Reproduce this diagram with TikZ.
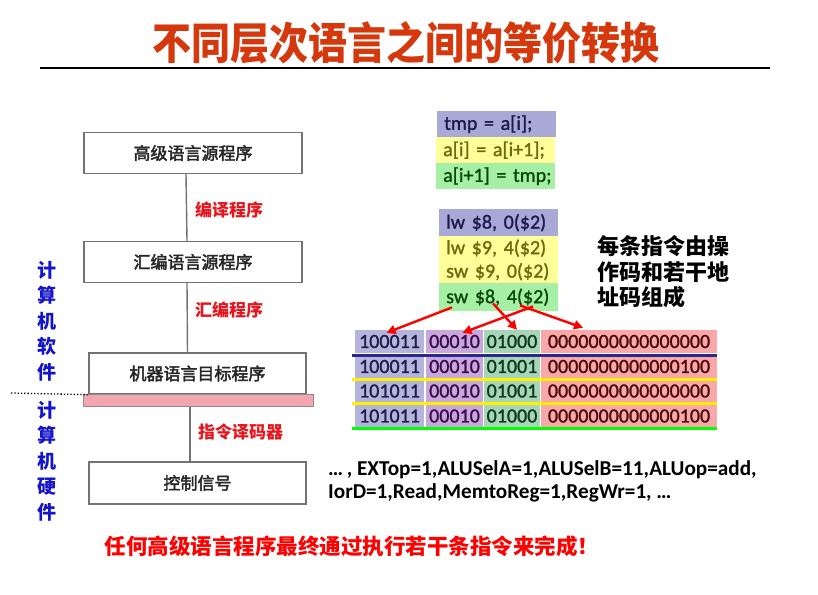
\documentclass[tikz,border=0pt]{standalone}
\usepackage{fontspec}
\setmainfont{Carlito}
\newfontfamily\cjk{Noto Sans CJK SC}
\newfontfamily\cjkm{Noto Sans CJK SC}[FakeBold=2.5]
\newfontfamily\codef{Carlito}[FakeBold=1.2]
\usetikzlibrary{arrows.meta,calc}
\definecolor{titlered}{HTML}{D4380C}
\definecolor{labred}{HTML}{E8141C}
\definecolor{blueT}{HTML}{1414C8}
\definecolor{pbg}{HTML}{A9A9D8}
\definecolor{ybg}{HTML}{FFFF99}
\definecolor{gbg}{HTML}{A6F0A6}
\definecolor{pinkbar}{HTML}{F4A6B0}
\definecolor{tc1}{HTML}{B4B4DC}
\definecolor{tc2}{HTML}{C8A8DC}
\definecolor{tc3}{HTML}{A8D4B8}
\definecolor{tc4}{HTML}{F8A8A8}
\definecolor{tx1}{HTML}{1C1C48}
\definecolor{tx2}{HTML}{3A0A4A}
\definecolor{tx3}{HTML}{0A3A1A}
\definecolor{tx4}{HTML}{4A0A0A}
\definecolor{ctx1}{HTML}{1A1A48}
\definecolor{ctx2}{HTML}{6A6A10}
\definecolor{ctx3}{HTML}{0A480A}
\tikzset{
  levelbox/.style={draw=black!55, line width=1.4pt, fill=white, minimum width=218pt, minimum height=41pt, inner sep=0pt, font=\cjkm\fontsize{17}{20}\selectfont, text=black!85},
  redlab/.style={text=labred, font=\cjk\bfseries\fontsize{17}{20}\selectfont, anchor=west, inner sep=0pt},
  bluecol/.style={text=blueT, font=\cjk\bfseries\fontsize{19}{25.5}\selectfont, align=center, inner sep=0pt},
  conn/.style={draw=black!55, line width=1.4pt},
  codebox/.style={anchor=north west, inner xsep=7pt, inner ysep=0pt, minimum width=119pt, text width=105pt, align=left, font=\codef\fontsize{20}{22}\selectfont},
  cell/.style={inner sep=0pt, minimum height=23pt, font=\codef\fontsize{20}{22}\selectfont},
  redarrow/.style={draw=red, line width=2.4pt, -{Triangle[length=9pt,width=9pt]}},
}
\begin{document}
\begin{tikzpicture}[x=1pt,y=-1pt]
\useasboundingbox[fill=white] (0,0) rectangle (818,594);
% title
\node[text=titlered, font=\cjk\bfseries\fontsize{39}{42}\selectfont, inner sep=0pt] (title) at (406,43) {\scalebox{1}[1.12]{不同层次语言之间的等价转换}};
\coordinate (tl) at (40,68);
\coordinate (tr) at (770,68);
\draw[line width=1.2pt] (tl) -- (tr);

% left hierarchy
\node[levelbox] (box1) at (193,153) {高级语言源程序};
\node[levelbox] (box2) at (193,262) {汇编语言源程序};
\node[levelbox, minimum width=217pt] (box3) at (197.5,373.5) {机器语言目标程序};
\node[draw=black!45, line width=1pt, fill=pinkbar, minimum width=230pt, minimum height=12pt, inner sep=0pt] (bar) at (198,400) {};
\node[levelbox, minimum width=217pt, minimum height=42pt] (box4) at (197.5,483) {控制信号};
\draw[conn] ([xshift=-7pt]box1.south) -- ([xshift=-6pt]box2.north);
\draw[conn] ([xshift=-6pt]box2.south) -- ([xshift=-10pt]box3.north);
\draw[conn] ([xshift=-8pt]bar.south) -- ([xshift=-7.5pt]box4.north);
\node[redlab] (l1) at (195,210) {编译程序};
\node[redlab] (l2) at (195,310) {汇编程序};
\node[redlab] (l3) at (198,432) {指令译码器};

\node[bluecol] (soft) at (47,321) {计\\算\\机\\软\\件};
\node[bluecol] (hard) at (47,461) {计\\算\\机\\硬\\件};
\coordinate (dl) at (11,393);
\draw[dotted, line width=1.3pt] (dl) -- (box3.south west);

% code boxes
\node[codebox, fill=pbg, text=ctx1, minimum height=26pt] (c1) at (437,111) {tmp = a[i];};
\node[codebox, fill=ybg, text=ctx2, minimum height=26pt] (c2) at (436,137) {a[i] = a[i+1];};
\node[codebox, fill=gbg, text=ctx3, minimum height=26pt] (c3) at (436,163) {\rlap{a[i+1] = tmp;}};
\node[codebox, fill=pbg, text=ctx1, minimum height=27pt] (c4) at (439,209) {lw \$8, 0(\$2)};
\node[codebox, fill=ybg, text=ctx2, minimum height=24pt] (c5) at (439,236) {lw \$9, 4(\$2)};
\node[codebox, fill=ybg, text=ctx2, minimum height=23pt] (c6) at (439,260) {sw \$9, 0(\$2)};
\node[codebox, fill=gbg, text=ctx3, minimum height=28pt] (c7) at (439,283) {sw \$8, 4(\$2)};

\node[font=\cjk\bfseries\fontsize{22}{25.5}\selectfont, align=left, inner sep=0pt, anchor=west] (note) at (597,272) {每条指令由操\\作码和若干地\\址码组成};

% binary table
\def\cola{389.5}\def\colb{454.5}\def\colc{512}\def\cold{629}
\foreach \r/\y/\a/\b/\c/\d in {1/341.5/100011/00010/01000/0000000000000000,
                                2/366.5/100011/00010/01001/0000000000000100,
                                3/391/101011/00010/01001/0000000000000000,
                                4/416/101011/00010/01000/0000000000000100}{
  \node[cell, fill=tc1, text=tx1, minimum width=69pt] (t\r1) at (\cola,\y) {\a};
  \node[cell, fill=tc2, text=tx2, minimum width=57pt] (t\r2) at (\colb,\y) {\b};
  \node[cell, fill=tc3, text=tx3, minimum width=56pt] (t\r3) at (\colc,\y) {\c};
  \node[cell, fill=tc4, text=tx4, minimum width=176pt] (t\r4) at (\cold,\y) {\d};
}
\draw[line width=2.6pt, draw={rgb,255:red,40;green,40;blue,140}] ([xshift=-3pt,yshift=-2pt]t11.south west) -- ([yshift=-2pt]t14.south east);
\draw[line width=2.6pt, draw=yellow] ([xshift=-3pt,yshift=-1pt]t21.south west) -- ([yshift=-1pt]t24.south east);
\draw[line width=2.6pt, draw=yellow] ([xshift=-3pt,yshift=-1pt]t31.south west) -- ([yshift=-1pt]t34.south east);
\draw[line width=2.6pt, draw=green] ([xshift=-3pt,yshift=-1pt]t41.south west) -- ([yshift=-1pt]t44.south east);

% arrows
\draw[redarrow] ([shift={(13,-4)}]c7.south west) -- ([xshift=-3pt,yshift=-3pt]t11.north);
\draw[redarrow] ([shift={(94,-5)}]c7.south west) -- ([xshift=8pt,yshift=-3pt]t12.north);
\draw[redarrow] ([shift={(54,-8)}]c7.south west) -- ([xshift=5pt]t13.north);
\draw[redarrow] ([shift={(81,-6)}]c7.south west) -- ([xshift=-46pt,yshift=2pt]t14.north);

% control signals text
\node[font=\bfseries\fontsize{21.2}{23}\selectfont, align=left, inner sep=0pt, anchor=west] (sig) at (328,481.5) {\ldots\,, EXTop=1,ALUSelA=1,ALUSelB=11,ALUop=add,\\IorD=1,Read,MemtoReg=1,RegWr=1, \ldots};

\node[text=red, font=\cjk\bfseries\fontsize{21.5}{24}\selectfont, inner sep=0pt] (concl) at (352,546) {任何高级语言程序最终通过执行若干条指令来完成！};
\end{tikzpicture}
\end{document}
